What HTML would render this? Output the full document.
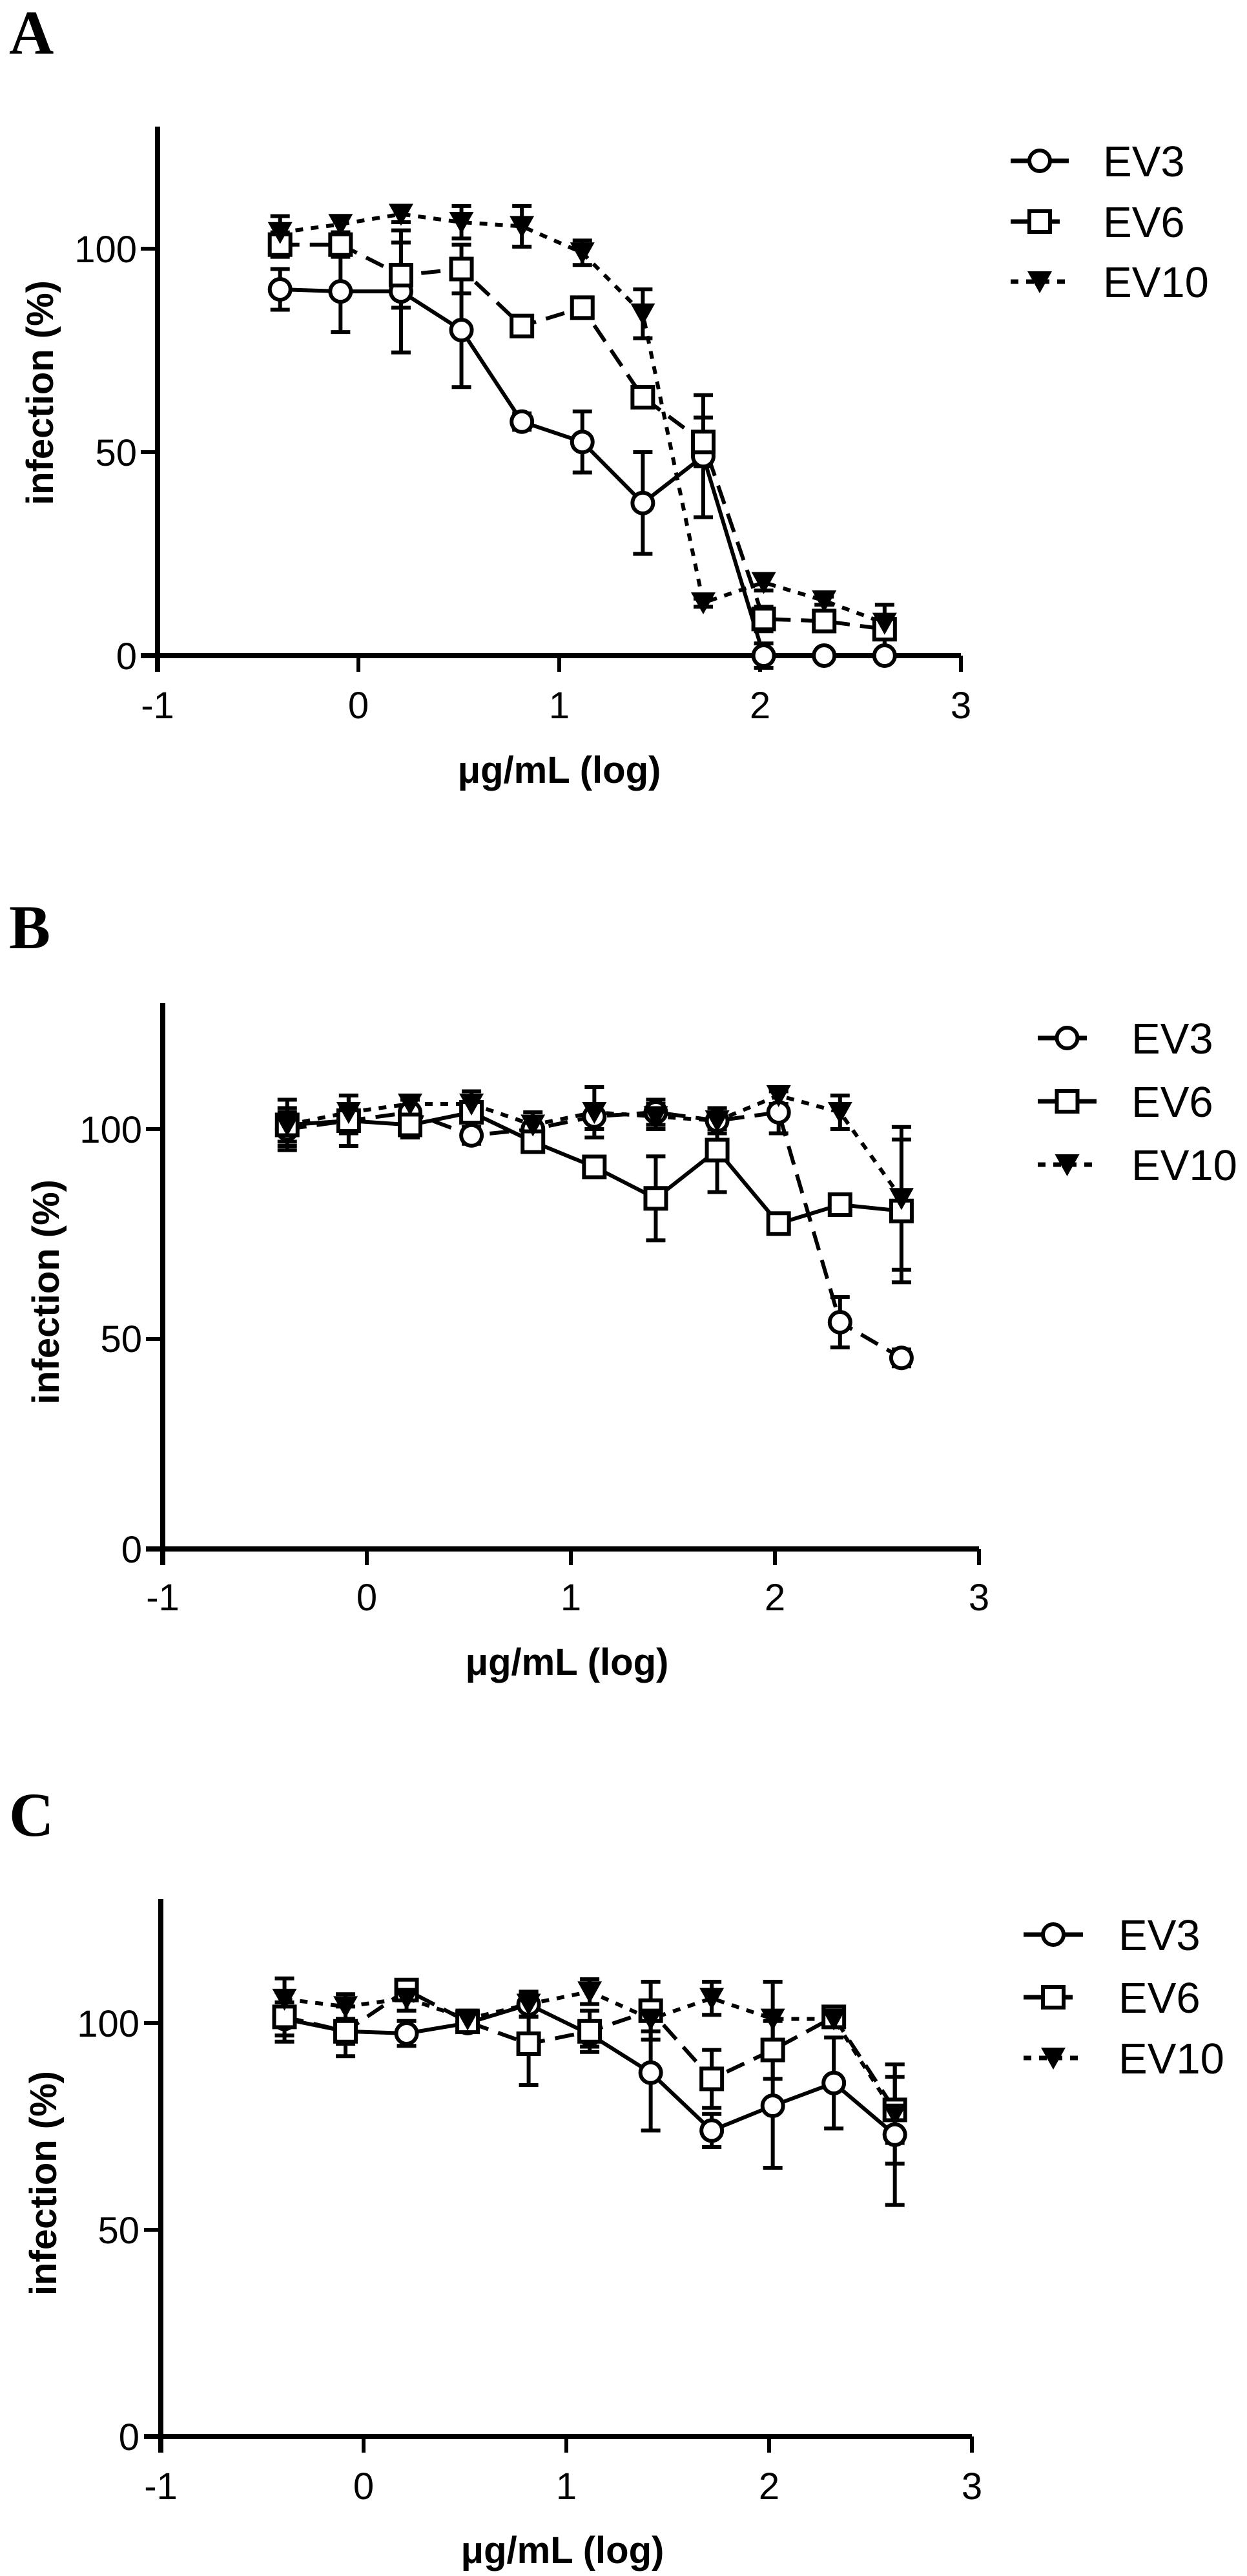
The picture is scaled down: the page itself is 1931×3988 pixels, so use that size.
<!DOCTYPE html>
<html><head><meta charset="utf-8">
<style>
html,body{margin:0;padding:0;background:#fff;}
svg{display:block;}
text{font-family:"Liberation Sans",Arial,sans-serif;fill:#000;}
.tick{font-size:58px;}
.lab{font-size:58px;font-weight:bold;}
.leg{font-size:67px;}
.let{font-family:"Liberation Serif",serif;font-size:96px;font-weight:bold;}
</style></head>
<body>
<svg id="s" width="1931" height="3988" viewBox="0 0 1931 3988" xmlns="http://www.w3.org/2000/svg">
<g id="g"></g>
<!-- Panel A texts -->
<text class="let" x="14" y="83">A</text>
<text class="tick" x="212" y="1036" text-anchor="end">0</text>
<text class="tick" x="212" y="721" text-anchor="end">50</text>
<text class="tick" x="212" y="406" text-anchor="end">100</text>
<text class="tick" x="244" y="1112" text-anchor="middle">-1</text>
<text class="tick" x="555" y="1112" text-anchor="middle">0</text>
<text class="tick" x="866" y="1112" text-anchor="middle">1</text>
<text class="tick" x="1177" y="1112" text-anchor="middle">2</text>
<text class="tick" x="1488" y="1112" text-anchor="middle">3</text>
<text class="lab" x="866" y="1212" text-anchor="middle">μg/mL (log)</text>
<text class="lab" transform="translate(82,608) rotate(-90)" text-anchor="middle">infection (%)</text>
<text class="leg" x="1708" y="273">EV3</text>
<text class="leg" x="1708" y="367">EV6</text>
<text class="leg" x="1708" y="460">EV10</text>
<!-- Panel B texts -->
<text class="let" x="14" y="1468">B</text>
<text class="tick" x="220" y="2419" text-anchor="end">0</text>
<text class="tick" x="220" y="2093" text-anchor="end">50</text>
<text class="tick" x="220" y="1769" text-anchor="end">100</text>
<text class="tick" x="252" y="2493" text-anchor="middle">-1</text>
<text class="tick" x="568" y="2493" text-anchor="middle">0</text>
<text class="tick" x="884" y="2493" text-anchor="middle">1</text>
<text class="tick" x="1200" y="2493" text-anchor="middle">2</text>
<text class="tick" x="1516" y="2493" text-anchor="middle">3</text>
<text class="lab" x="878" y="2593" text-anchor="middle">μg/mL (log)</text>
<text class="lab" transform="translate(91,2000) rotate(-90)" text-anchor="middle">infection (%)</text>
<text class="leg" x="1752" y="1631">EV3</text>
<text class="leg" x="1752" y="1729">EV6</text>
<text class="leg" x="1752" y="1827">EV10</text>
<!-- Panel C texts -->
<text class="let" x="14" y="2842">C</text>
<text class="tick" x="216" y="3793" text-anchor="end">0</text>
<text class="tick" x="216" y="3473" text-anchor="end">50</text>
<text class="tick" x="216" y="3153" text-anchor="end">100</text>
<text class="tick" x="249" y="3869" text-anchor="middle">-1</text>
<text class="tick" x="563" y="3869" text-anchor="middle">0</text>
<text class="tick" x="877" y="3869" text-anchor="middle">1</text>
<text class="tick" x="1191" y="3869" text-anchor="middle">2</text>
<text class="tick" x="1505" y="3869" text-anchor="middle">3</text>
<text class="lab" x="871" y="3968" text-anchor="middle">μg/mL (log)</text>
<text class="lab" transform="translate(87,3380) rotate(-90)" text-anchor="middle">infection (%)</text>
<text class="leg" x="1732" y="3019">EV3</text>
<text class="leg" x="1732" y="3116">EV6</text>
<text class="leg" x="1732" y="3210">EV10</text>
</svg>
<script>
(function(){
var NS="http://www.w3.org/2000/svg",g=document.getElementById("g");
function el(t,a){var e=document.createElementNS(NS,t);for(var k in a)e.setAttribute(k,a[k]);g.appendChild(e);return e;}
var DASH={solid:"",dashed:"30 16",dotted:"12 12"};
function marker(type,x,y){
 if(type=="c")el("circle",{cx:x,cy:y,r:16,fill:"#fff",stroke:"#000","stroke-width":6});
 else if(type=="s")el("rect",{x:x-16,y:y-16,width:32,height:32,fill:"#fff",stroke:"#000","stroke-width":6});
 else el("polygon",{points:(x-19)+","+(y-16)+" "+(x+19)+","+(y-16)+" "+x+","+(y+18),fill:"#000"});
}
var P=[
 {ax:244,ux:311,y0:1015,u:6.30,
  s:[{m:"c",d:"solid",v:[[90,5],[89.5,10],[89.5,15],[80,14],[57.5,2],[52.5,7.5],[37.5,12.5],[49,15],[0,3],[0,0],[0,0]]},
     {m:"s",d:"dashed",v:[[101,3],[101,3],[93.5,8],[95,6],[81,2],[85.5,2],[63.5,2],[52.5,6],[9,3],[8.5,2],[6.5,6]]},
     {m:"t",d:"dotted",v:[[104,4],[106,2],[108.5,2],[106.5,4],[105.5,5],[99,3],[84,6],[13,1],[18,2],[13.5,1],[8,2]]}],
  leg:{x1:1565,x2:1655,y:[249,343,436]}},
 {ax:252,ux:316,y0:2398,u:6.50,
  s:[{m:"c",d:"dashed",v:[[100,4],[102,3],[104,3],[98.5,2],[100,3],[103,3],[104,3],[102,2],[104,5],[54,6],[45.5,2]]},
     {m:"s",d:"solid",v:[[101,6],[102,6],[101,3],[104,4],[97,2],[91,1],[83.5,10],[95,10],[77.5,1],[82,1],[80.5,17]]},
     {m:"t",d:"dotted",v:[[101,4],[104,4],[106,2],[106,3],[101,3],[104,6],[103,3],[102,3],[108,2],[104,4],[83.5,17]]}],
  leg:{x1:1607,x2:1698,y:[1607,1705,1803]}},
 {ax:249,ux:314,y0:3772,u:6.40,
  s:[{m:"c",d:"solid",v:[[101,4],[98,3],[97.5,3],[100,2],[104.5,3],[97.3,3],[88,14],[74,4],[80,15],[85.5,11],[73,17]]},
     {m:"s",d:"dashed",v:[[101.5,6],[98,6],[108,2],[100.3,2],[95,10],[98,5],[103,7],[86.5,7],[93.5,7],[101.5,2],[79,8]]},
     {m:"t",d:"dotted",v:[[105.8,5],[104,3],[106,3],[101,2],[104.6,3],[107.6,3],[101,3],[106,4],[101,9],[101,2],[78,12]]}],
  leg:{x1:1585,x2:1677,y:[2995,3092,3186]}}
];
P.forEach(function(p){
 var top=p.y0-130*p.u;
 el("line",{x1:p.ax,y1:top,x2:p.ax,y2:p.y0+25,stroke:"#000","stroke-width":8});
 el("line",{x1:p.ax-26,y1:p.y0,x2:p.ax+4*p.ux,y2:p.y0,stroke:"#000","stroke-width":8});
 for(var i=1;i<=4;i++)el("line",{x1:p.ax+i*p.ux,y1:p.y0,x2:p.ax+i*p.ux,y2:p.y0+25,stroke:"#000","stroke-width":6});
 [50,100].forEach(function(v){el("line",{x1:p.ax-26,y1:p.y0-v*p.u,x2:p.ax,y2:p.y0-v*p.u,stroke:"#000","stroke-width":6});});
 function X(i){return p.ax+(-0.39+0.301*i+1)*p.ux;}
 function Y(v){return p.y0-v*p.u;}
 p.s.forEach(function(s){
  s.v.forEach(function(d,i){
   if(d[1]>0){var x=X(i);
    el("line",{x1:x,y1:Y(d[0]-d[1]),x2:x,y2:Y(d[0]+d[1]),stroke:"#000","stroke-width":6});
    el("line",{x1:x-15,y1:Y(d[0]-d[1]),x2:x+15,y2:Y(d[0]-d[1]),stroke:"#000","stroke-width":6});
    el("line",{x1:x-15,y1:Y(d[0]+d[1]),x2:x+15,y2:Y(d[0]+d[1]),stroke:"#000","stroke-width":6});}
  });
 });
 p.s.forEach(function(s){
  var pts=s.v.map(function(d,i){return X(i).toFixed(1)+","+Y(d[0]).toFixed(1);}).join(" ");
  var a={points:pts,fill:"none",stroke:"#000","stroke-width":6,"stroke-linejoin":"round"};
  if(DASH[s.d])a["stroke-dasharray"]=DASH[s.d];
  el("polyline",a);
 });
 p.s.forEach(function(s){s.v.forEach(function(d,i){marker(s.m,X(i),Y(d[0]));});});
 p.s.forEach(function(s,k){
  var y=p.leg.y[k],a={x1:p.leg.x1,y1:y,x2:p.leg.x2,y2:y,stroke:"#000","stroke-width":7};
  if(DASH[s.d])a["stroke-dasharray"]=DASH[s.d];
  el("line",a);
  marker(s.m,(p.leg.x1+p.leg.x2)/2,y);
 });
});
})();
</script>
</body></html>
